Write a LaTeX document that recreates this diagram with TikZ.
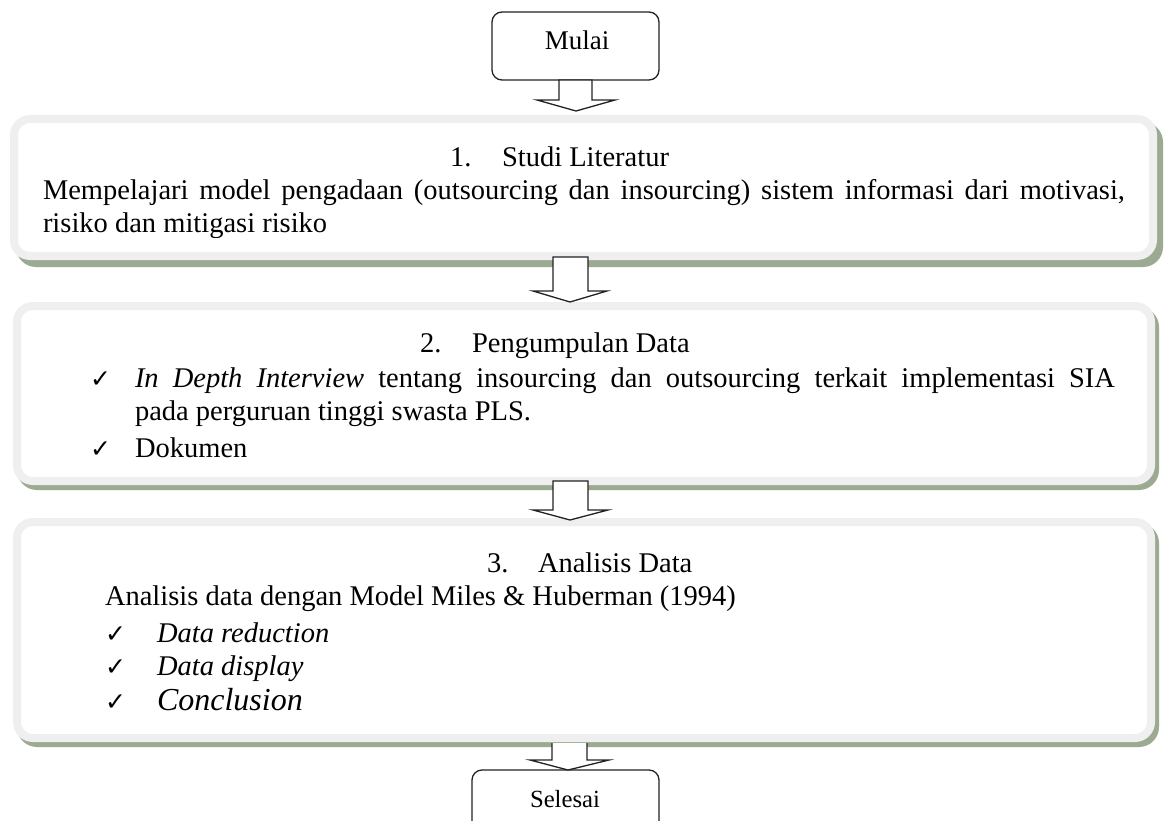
\documentclass[tikz,border=0pt]{standalone}
\usepackage{fontspec}
\setmainfont{Liberation Serif}
\newfontfamily\checkfont{DejaVu Sans}
\pgfdeclarelayer{bg}
\pgfsetlayers{bg,main}
\definecolor{bordergray}{HTML}{EFEFEF}
\definecolor{shadowgreen}{HTML}{9BAA91}
\definecolor{inkline}{HTML}{222222}
\tikzset{
  bigbox/.style={draw=bordergray, line width=8pt, fill=white, rounded corners=16pt,
    inner sep=0pt, outer sep=0pt},
  shadowfill/.style={fill=shadowgreen, rounded corners=20pt},
  termbox/.style={draw=inkline, line width=1.3pt, rounded corners=10pt, fill=white,
    inner sep=0pt, outer sep=0pt},
  blockarrow/.style={draw=inkline, line width=1.3pt, fill=white, line join=miter},
  txt/.style={inner sep=0pt, outer sep=0pt, anchor=base west, text=black,
    font=\fontsize{28.5}{33}\selectfont},
  ttxt/.style={inner sep=0pt, outer sep=0pt, anchor=base, text=black},
  chk/.style={inner sep=0pt, outer sep=0pt, anchor=base west, text=black,
    font=\checkfont\fontsize{25}{25}\selectfont},
}
\begin{document}
\begin{tikzpicture}[x=1pt,y=-1pt]
\clip (0,0) rectangle (1164,821);

% ---- process boxes ----
\node[bigbox, minimum width=1139pt, minimum height=137pt] (box1) at (583.5,187.5) {};
\node[bigbox, minimum width=1134pt, minimum height=175pt] (box2) at (584,393.5) {};
\node[bigbox, minimum width=1134pt, minimum height=216pt] (box3) at (584,630) {};

\begin{pgfonlayer}{bg}
  \fill[white] (0,0) rectangle (1164,821);
  \fill[shadowfill] ([shift={(2,3)}]box1.north west) rectangle ([shift={(10,11)}]box1.south east);
  \fill[shadowfill] ([shift={(0,1)}]box2.north west) rectangle ([shift={(8,9)}]box2.south east);
  \fill[shadowfill] ([shift={(0,1)}]box3.north west) rectangle ([shift={(8,9)}]box3.south east);
\end{pgfonlayer}

% ---- terminal boxes ----
\node[termbox, minimum width=167pt, minimum height=68pt] (mulai) at (575.5,46) {};
\node[ttxt, font=\fontsize{27}{27}\selectfont] (mulaitxt) at (577,50) {Mulai};
\node[termbox, minimum width=187pt, minimum height=80pt] (selesai) at (565.5,810) {};
\node[ttxt, font=\fontsize{24.7}{24.7}\selectfont] (selesaitxt) at (565,807) {Selesai};

% ---- block arrows ----
\draw[blockarrow] (559,80) -- (559,100) -- (537,100) -- (576,111) -- (615,100) -- (592,100) -- (592,80) -- cycle;
\draw[blockarrow] (553,257) -- (553,291) -- (533,291) -- (570,302) -- (607,291) -- (588,291) -- (588,257) -- cycle;
\draw[blockarrow] (553,481) -- (553,510) -- (533,510) -- (570,520) -- (608,510) -- (588,510) -- (588,481) -- cycle;
\fill[white] (552,743) -- (552,760) -- (530,760) -- (568,770) -- (609,760) -- (587,760) -- (587,743) -- cycle;
\draw[blockarrow, fill=none] (552,743) -- (552,760) -- (530,760) -- (568,770) -- (609,760) -- (587,760) -- (587,743);

% ---- box 1 text ----
\node[txt] (n1) at (450,167) {1.};
\node[txt] (t1) at (502,167) {Studi Literatur};
\node[txt] (l1a) at (43,200) {\makebox[1082pt][s]{Mempelajari model pengadaan (outsourcing dan insourcing) sistem informasi dari motivasi,}};
\begin{scope}
  \clip (0,0) rectangle (1164,237);
  \node[txt] (l1b) at (43,233) {risiko dan mitigasi risiko};
\end{scope}

% ---- box 2 text ----
\node[txt] (n2) at (420,352) {2.};
\node[txt] (t2) at (472,352) {Pengumpulan Data};
\node[chk] (c2a) at (90,387) {✓};
\node[txt] (l2a) at (135,387) {\makebox[980pt][s]{\textit{In Depth Interview} tentang insourcing dan outsourcing terkait implementasi SIA}};
\node[txt] (l2b) at (135,420) {pada perguruan tinggi swasta PLS.};
\node[chk] (c2b) at (90,457) {✓};
\node[txt] (l2c) at (135,457) {Dokumen};

% ---- box 3 text ----
\node[txt] (n3) at (487,572) {3.};
\node[txt] (t3) at (538,572) {Analisis Data};
\node[txt] (l3a) at (105,605) {Analisis data dengan Model Miles \& Huberman (1994)};
\node[chk] (c3a) at (105,642) {✓};
\node[txt] (l3b) at (157,642) {\textit{Data reduction}};
\node[chk] (c3b) at (105,675) {✓};
\node[txt] (l3c) at (157,675) {\textit{Data display}};
\node[chk] (c3c) at (105,710) {✓};
\node[txt, font=\fontsize{32}{36}\selectfont] (l3d) at (157,710) {\textit{Conclusion}};
\end{tikzpicture}
\end{document}
